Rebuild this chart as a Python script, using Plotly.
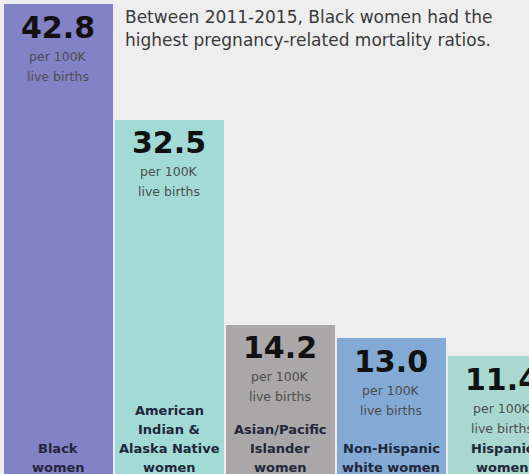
import plotly.graph_objects as go

categories = ["Black women", "American Indian & Alaska Native women",
              "Asian/Pacific Islander women", "Non-Hispanic white women",
              "Hispanic women"]
label_lines = [["Black", "women"],
               ["American", "Indian &", "Alaska Native", "women"],
               ["Asian/Pacific", "Islander", "women"],
               ["Non-Hispanic", "white women"],
               ["Hispanic", "women"]]
values = [42.8, 32.5, 14.2, 13.0, 11.4]
colors = ["#8282c6", "#a2dbd6", "#a9a7a7", "#82aad4", "#a8d8cf"]
unit_lines = ["per 100K", "live births"]
title_lines = ["Between 2011-2015, Black women had the",
               "highest pregnancy-related mortality ratios."]

xs = list(range(len(values)))

fig = go.Figure(go.Bar(x=xs, y=values, marker=dict(color=colors, line=dict(width=0)),
                       width=0.985, hoverinfo="skip"))

ann = []
for i, v in enumerate(values):
    ann.append(dict(x=i, y=v, xref="x", yref="y", text=f"<b>{v:.1f}</b>",
                    showarrow=False, yanchor="middle", yshift=-23,
                    font=dict(family="DejaVu Sans", size=30, color="#111111")))
    for j, t in enumerate(unit_lines):
        ann.append(dict(x=i, y=v, xref="x", yref="y", text=t, showarrow=False,
                        yanchor="middle", yshift=-52 - 20 * j,
                        font=dict(family="DejaVu Sans", size=12.5, color="#4d4d4d")))
    lines = label_lines[i]
    n = len(lines)
    for j, t in enumerate(lines):
        ann.append(dict(x=i, y=0, xref="x", yref="paper", text=f"<b>{t}</b>",
                        showarrow=False, yanchor="middle", yshift=7 + 19 * (n - 1 - j),
                        font=dict(family="DejaVu Sans", size=13, color="#22263a")))

for j, t in enumerate(title_lines):
    ann.append(dict(x=123 / 529, y=1, xref="paper", yref="paper", text=t,
                    showarrow=False, xanchor="left", yanchor="middle",
                    yshift=-17 - 23 * j,
                    font=dict(family="DejaVu Sans", size=17, color="#3a3a3a")))

fig.update_layout(
    width=529, height=474, margin=dict(l=0, r=0, t=0, b=0),
    paper_bgcolor="#eeeeee", plot_bgcolor="#eeeeee",
    showlegend=False, bargap=0,
    xaxis=dict(range=[-0.527, 4.239], visible=False, fixedrange=True),
    yaxis=dict(range=[0.9, 43.16], visible=False, fixedrange=True),
    annotations=ann,
)

fig.write_html("out.html", config={"displayModeBar": False},
               post_script="document.body.style.margin='0';document.body.style.background='#eeeeee';")
